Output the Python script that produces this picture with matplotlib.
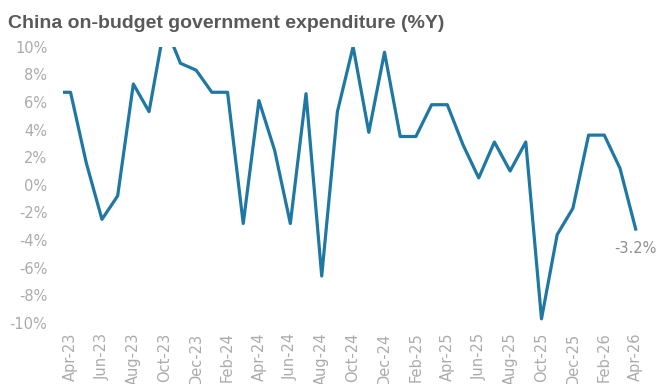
import numpy as np
import pandas as pd
import matplotlib.pyplot as plt

# monthly on-budget expenditure growth, % y/y (Mar-23 .. Apr-26)
months = pd.date_range("2023-03-01", "2026-04-01", freq="MS")
expenditure_yoy = [
    6.7, 6.7, 1.6, -2.5, -0.8, 7.3, 5.3, 11.6, 8.8, 8.3, 6.7, 6.7,
    -2.8, 6.1, 2.5, -2.8, 6.6, -6.6, 5.3, 10.0, 3.8, 9.6, 3.5, 3.5,
    5.8, 5.8, 2.9, 0.5, 3.1, 1.0, 3.1, -9.7, -3.6, -1.7, 3.6, 3.6,
    1.2, -3.2,
]
y_ticks = [10, 8, 6, 4, 2, 0, -2, -4, -6, -8, -10]
last_label = "-3.2%"

x = np.arange(len(months))
tick_idx = x[1::2]
tick_labels = [m.strftime("%b-%y") for m in months[1::2]]

fig = plt.figure(figsize=(6.58, 3.84), dpi=100)
fig.set_facecolor("white")
ax = fig.add_axes([0.0953, 0.1589, 0.8827, 0.7195])

ax.plot(x, expenditure_yoy, color="#1f77a3", lw=2.3)

ax.set_xlim(0.5, len(months) - 0.5)
ax.set_ylim(-10, 10)
ax.set_yticks(y_ticks)
ax.set_yticklabels([f"{v}%" for v in y_ticks])
ax.set_xticks(tick_idx)
ax.set_xticklabels(tick_labels, rotation=90, ha="center", va="top")

ax.tick_params(axis="y", length=0, pad=11, labelsize=10.5, labelcolor="#ababab")
ax.tick_params(axis="x", length=0, pad=7, labelsize=10.5, labelcolor="#ababab")
for s in ax.spines.values():
    s.set_visible(False)

# value label on the latest month
ax.annotate(last_label, (x[-1], expenditure_yoy[-1]), xytext=(0, -14),
            textcoords="offset points", ha="center", va="center",
            fontsize=10.5, color="#8c8c8c")

fig.text(0.012, 0.94, "China on-budget government expenditure (%Y)",
         fontsize=14, fontweight="semibold", color="#595959",
         family="Liberation Sans", va="center", ha="left")

fig.savefig("out.png", dpi=100)
